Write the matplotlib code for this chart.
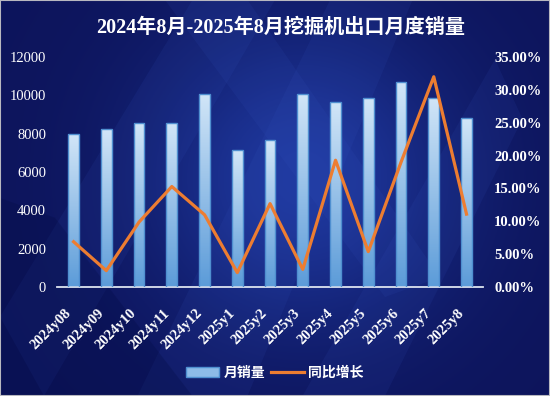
import numpy as np
import matplotlib
matplotlib.use("Agg")
import matplotlib.pyplot as plt
from matplotlib.patches import Polygon
from matplotlib.lines import Line2D
from matplotlib.patches import Patch

plt.rcParams['font.family'] = ['Liberation Serif', 'Noto Sans CJK SC']

months = ["2024y08", "2024y09", "2024y10", "2024y11", "2024y12", "2025y1", "2025y2",
          "2025y3", "2025y4", "2025y5", "2025y6", "2025y7", "2025y8"]
sales = [7970, 8240, 8540, 8570, 10090, 7130, 7650, 10090, 9640, 9840, 10680, 9880, 8840]
yoy = [6.9, 2.5, 9.9, 15.3, 11.0, 2.2, 12.7, 2.7, 19.3, 5.4, 19.0, 32.0, 11.1]  # %

fig = plt.figure(figsize=(5.5, 3.96), dpi=100)

# background: dark navy with a lighter diagonal glow
bg = fig.add_axes([0, 0, 1, 1], zorder=-10)
yy, xx = np.mgrid[0:1:200j, 0:1:280j]
glow = np.exp(-((xx - 0.55) ** 2 / 0.08 + (yy - 0.45) ** 2 / 0.15))
dark = np.array([0.05, 0.08, 0.36])
light = np.array([0.12, 0.22, 0.62])
img = dark + (light - dark) * glow[..., None]
bg.imshow(img, extent=[0, 1, 0, 1], aspect='auto', origin='upper')
streaks = [
    [(0.25, 0), (0.45, 0), (0.75, 1), (0.6, 1)],
    [(0.0, 0.2), (0.08, 0), (0.5, 1), (0.35, 1)],
    [(0.55, 0), (0.7, 0), (0.95, 0.7), (0.9, 0.85)],
    [(0.3, 1), (0.45, 1), (0.8, 0.3), (0.7, 0.25)],
]
for s in streaks:
    bg.add_patch(Polygon(s, closed=True, color='#3a5cc8', alpha=0.10, lw=0))
bg.add_patch(Polygon([(0, 0), (0.35, 0), (0.1, 0.45), (0, 0.5)], closed=True,
                     color='#020a40', alpha=0.25, lw=0))
bg.set_xlim(0, 1)
bg.set_ylim(0, 1)
bg.axis('off')
fig.patches.append(plt.Rectangle((0, 0), 1, 1, transform=fig.transFigure,
                                 fill=False, ec='#b8b8c0', lw=1.5))

ax = fig.add_axes([0.104, 0.275, 0.774, 0.581])
ax.patch.set_alpha(0)
x = np.arange(len(months))
bars = ax.bar(x, sales, width=0.33, color='#8dbbe8', edgecolor='#4f8fd0', lw=1, zorder=2)
grad = np.linspace(0, 1, 100)[:, None]
top_c = np.array([0.82, 0.90, 0.97])
bot_c = np.array([0.36, 0.61, 0.85])
gimg = top_c + (bot_c - top_c) * grad[..., None]
for b in bars:
    xb, wb, hb = b.get_x(), b.get_width(), b.get_height()
    im = ax.imshow(gimg, extent=[xb, xb + wb, 0, hb], aspect='auto', zorder=2.5)
    im.set_clip_path(b)
    b.set_facecolor('none')
    b.set_zorder(3)

ax.set_xlim(-0.5, len(months) - 0.5)
ax.set_ylim(0, 12000)
ax.set_yticks(range(0, 12001, 2000))
ax.set_xticks(x)
ax.set_xticklabels(months, rotation=45, ha='right', rotation_mode='default',
                   fontsize=10.5, fontweight='bold', color='white')
ax.tick_params(axis='x', length=0, pad=14)
ax.tick_params(axis='y', length=0, pad=8, labelsize=10.5, labelcolor='white')
for side in ['top', 'left', 'right']:
    ax.spines[side].set_visible(False)
ax.spines['bottom'].set_color('#dde4f0')
ax.spines['bottom'].set_linewidth(1.3)

ax2 = ax.twinx()
ax2.plot(x, yoy, color='#ed7d31', lw=2.3, zorder=5)
ax2.set_ylim(0, 35)
ax2.set_yticks(range(0, 36, 5))
ax2.set_yticklabels([f"{v:.2f}%" for v in range(0, 36, 5)])
ax2.tick_params(axis='y', length=0, pad=8, labelsize=10.5, labelcolor='white')
for lab in ax2.get_yticklabels():
    lab.set_fontweight('bold')
for side in ['top', 'left', 'right', 'bottom']:
    ax2.spines[side].set_visible(False)

fig.text(0.51, 0.93, "2024年8月-2025年8月挖掘机出口月度销量", ha='center', va='center',
         fontsize=14.5, fontweight='bold', color='white')

handles = [Patch(facecolor='#8dbbe8', edgecolor='#4f8fd0'),
           Line2D([0], [0], color='#ed7d31', lw=2.3)]
leg = fig.legend(handles, ["月销量", "同比增长"], loc='center', bbox_to_anchor=(0.5, 0.058),
                 ncol=2, frameon=False, fontsize=10, handlelength=2.4, handletextpad=0.3,
                 columnspacing=0.4)
for t in leg.get_texts():
    t.set_color('white')
    t.set_fontweight('bold')

fig.savefig("out.png", dpi=100)
